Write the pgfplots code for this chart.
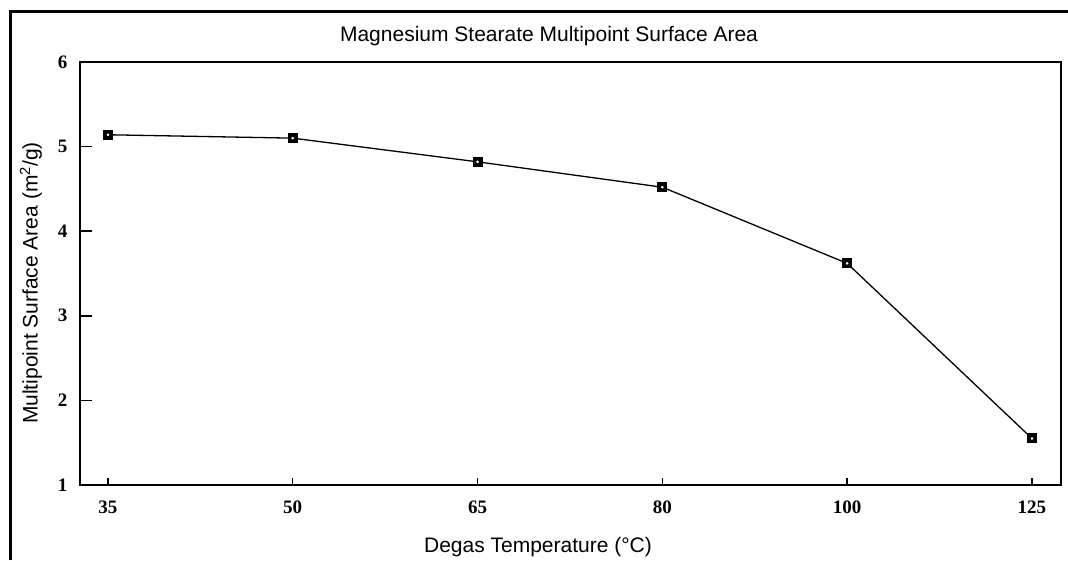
\documentclass[border=0pt]{standalone}
\usepackage{fontspec}
\setmainfont{Liberation Serif}
\newfontfamily\arial{Liberation Sans}
\usepackage{pgfplots}
\pgfplotsset{compat=1.18}
\begin{document}
\begin{tikzpicture}[x=1pt,y=1pt]
  \path[use as bounding box] (0,0) rectangle (1068,560);
  % outer frame (left and top edges visible)
  \draw[line width=3pt] (10,0) -- (10,548) -- (1068,548);
  \node[font=\arial\fontsize{21}{21}\selectfont] at (549,524) {Magnesium Stearate Multipoint Surface Area};
  \node[font=\arial\fontsize{21}{21}\selectfont] at (538,13) {Degas Temperature (\textdegree C)};
  \node[font=\arial\fontsize{21}{21}\selectfont, rotate=90] at (31,277) {Multipoint Surface Area (m\textsuperscript{2}/g)};
  \begin{axis}[
    at={(80pt,75pt)}, anchor=south west,
    scale only axis, width=981pt, height=423pt,
    xmin=-0.151, xmax=5.157, ymin=1, ymax=6,
    xtick={0,1,2,3,4,5}, xticklabels={35,50,65,80,100,125},
    ytick={1,2,3,4,5,6},
    tick align=inside, xtick pos=lower, ytick pos=left,
    major tick length=12pt,
    xtick style={/pgfplots/major tick length=7pt},
    axis line style={line width=1.6pt},
    tick style={line width=1.4pt, black},
    /pgf/number format/assume math mode=true,
    ticklabel style={font=\bfseries\fontsize{19}{19}\selectfont},
    xticklabel style={yshift=-12pt},
    yticklabel style={xshift=-9pt},
  ]
  \addplot[black, line width=1.3pt, mark=square*, mark size=4.5pt, mark options={fill=black, line width=1pt}]
    coordinates {(0,5.14)(1,5.10)(2,4.82)(3,4.52)(4,3.62)(5,1.55)};
  \addplot[only marks, mark=*, mark size=1.1pt, mark options={fill=white, draw=white}]
    coordinates {(0,5.14)(1,5.10)(2,4.82)(3,4.52)(4,3.62)(5,1.55)};
  \end{axis}
\end{tikzpicture}
\end{document}
